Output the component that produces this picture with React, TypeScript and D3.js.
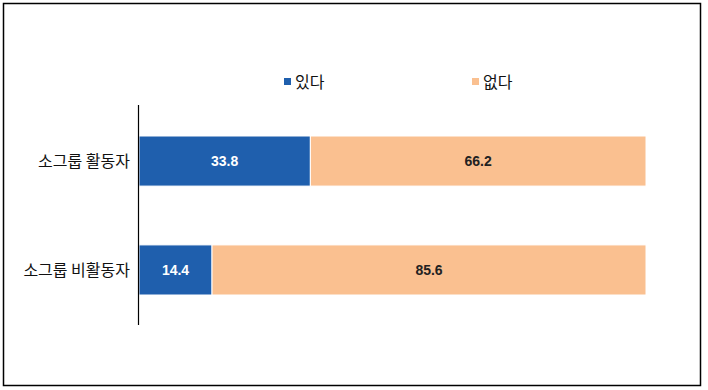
import React, { useEffect, useRef } from "react";
import * as d3 from "d3";

const categories = ["소그룹 활동자", "소그룹 비활동자"];
const seriesNames = ["있다", "없다"];
const yesValues = [33.8, 14.4];
const noValues = [66.2, 85.6];
const colors = ["#1F5FAD", "#FAC090"];

function App() {
  const svgRef = useRef(null);

  useEffect(() => {
    const svg = d3.select(svgRef.current);
    svg.selectAll("*").remove();

    const korFont = "'Noto Sans CJK KR', sans-serif";
    const numFont = "'Liberation Sans Narrow', 'Arial Narrow', 'Liberation Sans', sans-serif";

    // outer frame
    svg.append("rect")
      .attr("x", 3.5).attr("y", 3.5)
      .attr("width", 697).attr("height", 382)
      .attr("fill", "white")
      .attr("stroke", "#000")
      .attr("stroke-width", 1.5);

    const xScale = d3.scaleLinear().domain([0, 100]).range([139, 646]);
    const yScale = d3.scaleBand()
      .domain(categories)
      .range([136, 295])
      .paddingInner(0.54)
      .paddingOuter(0);

    const rows = categories.map((c, i) => ({
      cat: c,
      segs: [
        { name: seriesNames[0], start: 0, value: yesValues[i] },
        { name: seriesNames[1], start: yesValues[i], value: noValues[i] },
      ],
    }));

    const groups = svg.append("g").selectAll("g")
      .data(rows)
      .enter()
      .append("g");

    groups.selectAll("rect")
      .data(d => d.segs.map(s => ({ ...s, cat: d.cat })))
      .enter()
      .append("rect")
      .attr("x", d => xScale(d.start))
      .attr("y", d => yScale(d.cat))
      .attr("width", d => xScale(d.start + d.value) - xScale(d.start))
      .attr("height", yScale.bandwidth())
      .attr("fill", (d, i) => colors[i])
      .attr("stroke", "white")
      .attr("stroke-width", 1);

    groups.selectAll("text")
      .data(d => d.segs.map(s => ({ ...s, cat: d.cat })))
      .enter()
      .append("text")
      .attr("x", d => xScale(d.start + d.value / 2))
      .attr("y", d => yScale(d.cat) + yScale.bandwidth() / 2)
      .attr("dy", "0.36em")
      .attr("text-anchor", "middle")
      .attr("font-family", numFont)
      .attr("font-weight", "bold")
      .attr("font-size", 14)
      .attr("fill", (d, i) => (i === 0 ? "white" : "#222"))
      .text(d => d.value.toFixed(1));

    // category labels
    svg.append("g").selectAll("text")
      .data(categories)
      .enter()
      .append("text")
      .attr("x", 130)
      .attr("y", d => yScale(d) + yScale.bandwidth() / 2)
      .attr("dy", "0.36em")
      .attr("text-anchor", "end")
      .attr("font-family", korFont)
      .attr("font-size", 16)
      .attr("fill", "#111")
      .text(d => d);

    // axis line
    svg.append("line")
      .attr("x1", 138.5).attr("x2", 138.5)
      .attr("y1", 105).attr("y2", 325)
      .attr("stroke", "#000")
      .attr("stroke-width", 1.2);

    // legend
    const legendX = [284, 472];
    const legend = svg.append("g").selectAll("g")
      .data(seriesNames)
      .enter()
      .append("g")
      .attr("transform", (d, i) => `translate(${legendX[i]}, 82)`);

    legend.append("rect")
      .attr("x", 0).attr("y", -4)
      .attr("width", 7).attr("height", 7)
      .attr("fill", (d, i) => colors[i]);

    legend.append("text")
      .attr("x", 11)
      .attr("y", 0)
      .attr("dy", "0.36em")
      .attr("font-family", korFont)
      .attr("font-size", 16)
      .attr("fill", "#111")
      .text(d => d);
  }, []);

  return (
    <svg
      ref={svgRef}
      width={708}
      height={390}
      style={{ position: "absolute", left: 0, top: 0 }}
    />
  );
}

export default App;
